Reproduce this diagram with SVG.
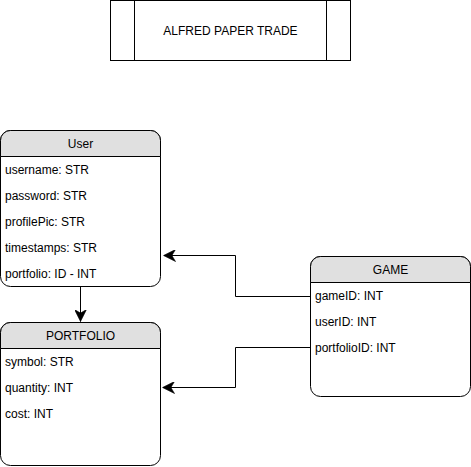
<svg xmlns="http://www.w3.org/2000/svg" width="471" height="467" viewBox="0 0 471 467">
<style>
text{font-family:"Liberation Sans",Arial,sans-serif;font-size:12px;fill:#000}
.box{fill:#fff;stroke:#000;stroke-width:1}
.hdr{fill:#e0e0e0;stroke:#000;stroke-width:1}
.c{text-anchor:middle}
.edge{fill:none;stroke:#000;stroke-width:1}
</style>
<defs>
<marker id="arr" markerUnits="userSpaceOnUse" markerWidth="12" markerHeight="12" viewBox="0 0 10 10" refX="10" refY="5" orient="auto">
<path d="M0,0 L10,5 L0,10 L3,5 Z" fill="#000" stroke="#000" stroke-width="0.5"/>
</marker>
</defs>
<rect width="471" height="467" fill="#fff"/>
<g id="title">
<rect class="box" x="110.5" y="0.5" width="240" height="60"/>
<line x1="134.5" y1="0.5" x2="134.5" y2="60.5" stroke="#000"/>
<line x1="326.5" y1="0.5" x2="326.5" y2="60.5" stroke="#000"/>
<text class="c" x="230.5" y="35">ALFRED PAPER TRADE</text>
</g>
<g id="user">
<rect class="box" x="0.5" y="130.5" width="160" height="156" rx="10" ry="10"/>
<path class="hdr" d="M0.5,156.5 V140.5 A10,10 0 0 1 10.5,130.5 H150.5 A10,10 0 0 1 160.5,140.5 V156.5 Z"/>
<text class="c" x="80.5" y="147.5">User</text>
<text x="5" y="174">username: STR</text>
<text x="5" y="200">password: STR</text>
<text x="5" y="226">profilePic: STR</text>
<text x="5" y="252">timestamps: STR</text>
<text x="5" y="278">portfolio: ID - INT</text>
</g>
<g id="portfolio">
<rect class="box" x="0.5" y="322.5" width="160" height="143" rx="10" ry="10"/>
<path class="hdr" d="M0.5,348.5 V332.5 A10,10 0 0 1 10.5,322.5 H150.5 A10,10 0 0 1 160.5,332.5 V348.5 Z"/>
<text class="c" x="80.5" y="339.5">PORTFOLIO</text>
<text x="5" y="366">symbol: STR</text>
<text x="5" y="392">quantity: INT</text>
<text x="5" y="418">cost: INT</text>
</g>
<g id="game">
<rect class="box" x="310.5" y="256.5" width="160" height="140" rx="10" ry="10"/>
<path class="hdr" d="M310.5,282.5 V266.5 A10,10 0 0 1 320.5,256.5 H460.5 A10,10 0 0 1 470.5,266.5 V282.5 Z"/>
<text class="c" x="390.5" y="273.5">GAME</text>
<text x="315" y="300">gameID: INT</text>
<text x="315" y="326">userID: INT</text>
<text x="315" y="352">portfolioID: INT</text>
</g>
<g id="connectors">
<path class="edge" d="M80.5,286.5 V321.5" marker-end="url(#arr)"/>
<path class="edge" d="M310.5,296.5 H235.5 V255.5 H163.5" marker-end="url(#arr)"/>
<path class="edge" d="M310.5,347.5 H235.5 V387.5 H162.5" marker-end="url(#arr)"/>
</g>
</svg>
